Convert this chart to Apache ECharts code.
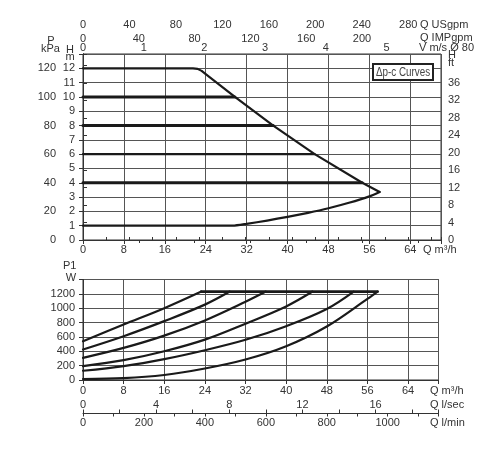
<!DOCTYPE html>
<html>
<head>
<meta charset="utf-8">
<script src="https://cdn.jsdelivr.net/npm/echarts@6/dist/echarts.min.js"></script>
<style>
html,body{margin:0;padding:0;background:#fff;}
#chart{width:500px;height:450px;}
</style>
</head>
<body>
<div id="chart"></div>
<script>
// ---- data ----
const qTicksM3h = [0, 8, 16, 24, 32, 40, 48, 56, 64];
// Head chart (H in m vs Q in m3/h)
const headMax = [[0,12],[21.5,12],[22.4,11.96],[23.2,11.82],[24,11.6],[29.7,10],[37.2,8],[45.3,6],[54.6,4],[58,3.36]];
const headMin = [[0,1],[29.3,1],[32,1.13],[36,1.36],[40,1.62],[44,1.9],[48,2.22],[52,2.6],[56,3.05],[58,3.36]];
const dpcLevels = [10, 8, 6, 4];
const dpcEndQ = [29.7, 37.2, 45.3, 54.6];
const dpcWidths = [3, 3, 2.2, 3];
// Power chart (P1 in W vs Q in m3/h)
const powA = [[0,540],[8,772],[16,1000],[23.3,1232]];
const powTop = [[23.3,1232],[58,1232]];
const powB = [[0,425],[8,610],[16,820],[24,1050],[28.9,1232]];
const powC = [[0,309],[8,447],[16,618],[24,830],[32,1090],[36,1232]];
const powD = [[0,194],[8,277],[16,401],[24,563],[32,785],[40,1025],[45.2,1232]];
const powE = [[0,129],[8,194],[16,291],[24,415],[32,560],[40,750],[48,990],[53.3,1232]];
const powF = [[0,14],[8,25],[16,70],[24,160],[32,285],[40,470],[48,745],[56,1130],[58,1232]];
// unit conversions for the secondary scales (m3/h per unit)
const QMAX = 70;
const usgpmFactor = 0.2271;
const impgpmFactor = 0.27277;
const velFactor = 11.87;
const lsecFactor = 3.6;
const lminFactor = 0.06;

const FONT = 'Liberation Sans';
const TXT = '#333';
const lab = (extra) => Object.assign({color: TXT, fontFamily: FONT, fontSize: 11}, extra || {});
const axLine = {show: true, lineStyle: {color: '#333', width: 1}};
const tick = (len, inside) => ({show: true, length: len, inside: !!inside, lineStyle: {color: '#333', width: 1}});
const split = {show: true, lineStyle: {color: '#555', width: 1}};

const chart = echarts.init(document.getElementById('chart'), null, {renderer: 'canvas'});

const lineSeries = (data, xi, yi, w, sm) => ({
  type: 'line', data: data, xAxisIndex: xi, yAxisIndex: yi,
  showSymbol: false, smooth: sm, silent: true,
  lineStyle: {color: '#1a1a1a', width: w, cap: 'round', join: 'round'}, z: 5
});

const series = [];
series.push(lineSeries(headMax, 0, 0, 2.2, false));
series.push(lineSeries(headMin, 0, 0, 2.2, 0.2));
dpcLevels.forEach((h, i) => {
  series.push(lineSeries([[0, h], [dpcEndQ[i], h]], 0, 0, dpcWidths[i], false));
});
[powA, powB, powC, powD, powE, powF].forEach(d => series.push(lineSeries(d, 4, 3, 2.2, 0.35)));
series.push(lineSeries(powTop, 4, 3, 2.8, false));

const txt = (x, y, s, align, size) => ({
  type: 'text', x: x, y: y, z: 50,
  style: {text: s, fill: TXT, font: (size || 11) + 'px "' + FONT + '"',
          align: align || 'left', textAlign: align || 'left',
          verticalAlign: 'middle', textVerticalAlign: 'middle'}
});

const option = {
  animation: false,
  backgroundColor: '#fff',
  grid: [
    {left: 83, top: 54, width: 358, height: 186, show: true, borderColor: '#333', borderWidth: 1},
    {left: 83, top: 279.5, width: 355.5, height: 100.5, show: true, borderColor: '#333', borderWidth: 1}
  ],
  xAxis: [
    {type: 'value', gridIndex: 0, position: 'bottom', min: 0, max: QMAX, interval: 8,
     axisLine: axLine, axisTick: tick(4), splitLine: split,
     axisLabel: lab({margin: 4, formatter: v => qTicksM3h.indexOf(v) >= 0 ? v : ''})},
    {type: 'value', gridIndex: 0, position: 'top', offset: 22, min: 0, max: QMAX / usgpmFactor, interval: 20,
     axisLine: axLine, axisTick: tick(3), splitLine: {show: false},
     axisLabel: lab({margin: 2, formatter: v => (v % 40 === 0) ? v : ''})},
    {type: 'value', gridIndex: 0, position: 'top', offset: 22, min: 0, max: QMAX / impgpmFactor, interval: 40,
     axisLine: {show: false}, axisTick: tick(3, true), splitLine: {show: false},
     axisLabel: lab({inside: true, margin: 1, formatter: v => (v <= 200 && v % 40 === 0) ? v : ''})},
    {type: 'value', gridIndex: 0, position: 'top', offset: 0, min: 0, max: QMAX / velFactor, interval: 1,
     axisLine: {show: false}, axisTick: {show: false}, splitLine: {show: false},
     axisLabel: lab({margin: 1, formatter: v => (Number.isInteger(v) && v <= 5) ? v : ''})},
    {type: 'value', gridIndex: 1, position: 'bottom', min: 0, max: QMAX, interval: 8,
     axisLine: axLine, axisTick: tick(4), splitLine: split,
     axisLabel: lab({margin: 5, formatter: v => qTicksM3h.indexOf(v) >= 0 ? v : ''})},
    {type: 'value', gridIndex: 1, position: 'bottom', offset: 33.5, min: 0, max: QMAX / lsecFactor, interval: 2,
     axisLine: axLine, axisTick: tick(4, true), splitLine: {show: false},
     axisLabel: lab({inside: true, margin: 3, formatter: v => (v % 4 === 0) ? v : ''})},
    {type: 'value', gridIndex: 1, position: 'bottom', offset: 33.5, min: 0, max: QMAX / lminFactor, interval: 100,
     axisLine: {show: false}, axisTick: tick(3), splitLine: {show: false},
     axisLabel: lab({margin: 4, formatter: v => (v % 200 === 0) ? v : ''})}
  ],
  yAxis: [
    {type: 'value', gridIndex: 0, position: 'left', min: 0, max: 13, interval: 1,
     axisLine: axLine, axisTick: tick(4), splitLine: split,
     axisLabel: lab({margin: 8, formatter: v => v <= 12 ? v : ''})},
    {type: 'value', gridIndex: 0, position: 'left', offset: 22, min: 0, max: 130, interval: 20,
     axisLine: axLine, axisTick: tick(3), splitLine: {show: false},
     axisLabel: lab({margin: 5, formatter: v => v <= 120 ? v : ''})},
    {type: 'value', gridIndex: 0, position: 'right', min: 0, max: 13 * 3.2808, interval: 4,
     axisLine: axLine, axisTick: tick(4), splitLine: {show: false},
     axisLabel: lab({margin: 7, formatter: v => v <= 36 ? v : ''})},
    {type: 'value', gridIndex: 1, position: 'left', min: 0, max: 1400, interval: 200,
     axisLine: axLine, axisTick: tick(4), splitLine: split,
     axisLabel: lab({margin: 8, formatter: v => v <= 1200 ? v : ''})}
  ],
  series: series,
  graphic: [
    txt(51, 41, 'P', 'center'),
    txt(50.5, 48.5, 'kPa', 'center'),
    txt(70, 49.5, 'H', 'center'),
    txt(70, 57, 'm', 'center'),
    txt(448, 55, 'H', 'left'),
    txt(448, 62.5, 'ft', 'left'),
    txt(420, 25, 'Q USgpm', 'left'),
    txt(420, 37.5, 'Q IMPgpm', 'left'),
    txt(419, 48, 'V m/s Ø 80', 'left'),
    txt(423, 249.5, 'Q m³/h', 'left'),
    txt(63, 266, 'P1', 'left'),
    txt(71, 277.5, 'W', 'center'),
    txt(430, 391, 'Q m³/h', 'left'),
    txt(430, 405, 'Q l/sec', 'left'),
    txt(430, 422.5, 'Q l/min', 'left'),
    {type: 'rect', z: 60, shape: {x: 373, y: 64, width: 60, height: 16},
     style: {fill: '#fff', stroke: '#222', lineWidth: 2}},
    {type: 'text', z: 61, x: 403, y: 72.5, scaleX: 0.82, originX: 0, originY: 0,
     style: {text: 'Δp-c Curves', fill: '#444', font: '12px "Liberation Sans"',
             align: 'center', textAlign: 'center', verticalAlign: 'middle', textVerticalAlign: 'middle'}}
  ]
};
chart.setOption(option);
</script>
</body>
</html>
